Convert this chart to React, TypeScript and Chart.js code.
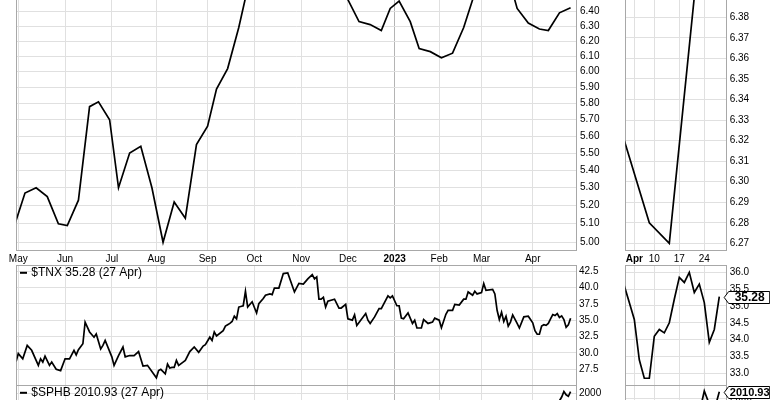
import React, { useEffect, useRef } from 'react';
import { Chart, registerables } from 'chart.js';

Chart.register(...registerables);

// ---------- data (x = trading-day index, 0 = 2 May 2022) ----------
const monthTickDays = [0, 21, 42, 62, 85, 106, 127, 148, 169, 189, 208, 231];
const monthTickLabels = ['May', 'Jun', 'Jul', 'Aug', 'Sep', 'Oct', 'Nov', 'Dec', '2023', 'Feb', 'Mar', 'Apr'];
const aprTickDays = [231, 235, 240, 245];
const aprTickLabels = ['Apr', '10', '17', '24'];

const weekDays = [-2, 3, 8, 13, 18, 22, 27, 32, 36, 41, 45, 50, 55, 60, 65, 70, 75, 80, 85, 89, 94, 99, 104, 109, 114, 119, 124, 129, 134, 139, 143, 148, 153, 158, 163, 167, 171, 176, 180, 185, 190, 195, 200, 204, 209, 214, 219, 224, 229, 234, 238, 243, 248];
const weekValues = [5.08, 5.27, 5.3, 5.25, 5.1, 5.09, 5.23, 5.78, 5.81, 5.7, 5.3, 5.5, 5.54, 5.3, 5.0, 5.22, 5.13, 5.55, 5.66, 5.89, 6.02, 6.29, 6.63, 6.95, 7.05, 7.1, 7.0, 6.9, 6.8, 6.7, 6.6, 6.48, 6.33, 6.31, 6.27, 6.42, 6.47, 6.33, 6.15, 6.13, 6.09, 6.12, 6.29, 6.48, 6.65, 6.75, 6.7, 6.42, 6.32, 6.28, 6.27, 6.39, 6.425];
const weekTicks = [5.0, 5.1, 5.2, 5.3, 5.4, 5.5, 5.6, 5.7, 5.8, 5.9, 6.0, 6.1, 6.2, 6.3, 6.4, 6.5, 6.6];
const weekAprTicks = [6.27, 6.28, 6.29, 6.3, 6.31, 6.32, 6.33, 6.34, 6.35, 6.36, 6.37, 6.38, 6.39];

const tnxDays = [-1, 0, 2, 4, 6, 9, 10, 11, 12, 14, 15, 17, 19, 21, 23, 25, 26, 27, 29, 30, 32, 34, 35, 37, 38, 39, 42, 43, 45, 47, 48, 50, 52, 54, 56, 58, 62, 63, 64, 66, 67, 68, 69, 70, 71, 72, 74, 75, 77, 79, 81, 83, 84, 86, 87, 88, 89, 92, 93, 94, 95, 96, 97, 98, 99, 101, 102, 103, 105, 107, 108, 110, 111, 113, 114, 115, 117, 119, 121, 124, 126, 128, 130, 132, 133, 134, 135, 136, 137, 138, 139, 142, 144, 145, 147, 148, 150, 151, 152, 154, 156, 157, 158, 160, 162, 163, 166, 167, 168, 170, 171, 172, 173, 175, 177, 178, 179, 181, 182, 184, 186, 187, 189, 190, 192, 193, 195, 196, 198, 200, 201, 202, 204, 205, 206, 208, 209, 210, 213, 214, 215, 216, 217, 218, 219, 220, 221, 222, 224, 225, 227, 229, 230, 231, 232, 233, 234, 235, 236, 237, 238, 239, 240, 241, 242, 243, 244, 245, 246, 247, 248];
const tnxValues = [28.7, 29.9, 29.1, 31.15, 30.4, 28.1, 29.1, 28.6, 29.5, 28.1, 28.6, 27.5, 27.3, 29.1, 29.1, 30.4, 29.7, 30.5, 31.4, 34.7, 33.2, 32.4, 32.9, 30.6, 31.15, 31.9, 29.4, 28.1, 29.6, 30.9, 29.4, 29.6, 29.6, 30.2, 28.0, 28.1, 26.2, 27.3, 27.5, 26.8, 28.3, 27.7, 27.8, 27.8, 28.86, 28.1, 28.6, 28.86, 30.2, 30.9, 30.1, 31.05, 31.25, 32.4, 31.9, 33.2, 32.6, 33.4, 34.1, 34.3, 34.5, 34.8, 35.6, 35.2, 37.0, 37.2, 39.4, 37.0, 37.8, 36.1, 37.5, 38.3, 38.8, 39.0, 38.9, 39.9, 39.9, 42.1, 42.2, 39.3, 40.6, 40.5, 41.3, 41.94, 41.3, 41.6, 38.2, 38.2, 38.5, 37.0, 37.9, 38.2, 36.85, 36.85, 37.4, 35.2, 35.0, 35.8, 34.2, 35.1, 36.0, 35.0, 34.5, 35.5, 36.75, 36.75, 38.7, 38.4, 38.7, 37.2, 37.2, 35.3, 35.2, 36.1, 34.5, 35.0, 33.8, 33.8, 35.1, 34.5, 34.7, 35.3, 35.0, 33.85, 35.9, 36.5, 36.5, 37.4, 37.3, 38.2, 38.2, 39.3, 38.8, 39.4, 39.0, 39.2, 40.57, 39.55, 39.7, 39.0, 36.5, 35.1, 36.2, 34.8, 35.6, 34.1, 34.7, 35.8, 34.5, 33.8, 35.5, 35.6, 35.1, 34.6, 33.4, 32.85, 32.85, 34.1, 34.3, 34.2, 34.5, 35.2, 35.85, 35.7, 36.0, 35.4, 35.65, 35.1, 33.92, 34.3, 35.28];
const tnxTicks = [27.5, 30, 32.5, 35, 37.5, 40, 42.5];
const tnxAprTicks = [33, 33.5, 34, 34.5, 35, 35.5, 36];

const sphbDays = [236, 238, 240, 241, 242, 243, 244, 245, 246, 247, 248];
const sphbValues = [1880, 1900, 1925, 1935, 1940, 1950, 1975, 2012, 1990, 1980, 2010.93];
const sphbTicks = [1600, 1700, 1800, 1900, 2000];
const sphbAprTicks = [1900, 1950, 2000];

// ---------- styling ----------
const FONT = "'Liberation Sans', Arial, sans-serif";
const GRID = '#e0e0e0';
const GRID_YEAR = '#b4b4b4';
const FRAME = '#a8a8a8';

type Spec = {
  left: number; top: number; width: number; height: number;
  areaLeft: number; areaTop: number; areaRight: number; areaBottom: number;
  xMin: number; xMax: number; xTicks: number[]; xLabels?: string[]; boldLabel?: string; darkTick?: number;
  yType: 'linear' | 'logarithmic'; yMin: number; yMax: number; yTicks: number[]; yDigits: number; yPad: number;
  xs: number[]; ys: number[]; lineWidth: number;
  legend?: string; box?: { value: number; text: string; size: number };
};

function buildConfig(s: Spec): any {
  const padLeft = s.areaLeft - s.left;
  const padTop = s.areaTop - s.top;
  const yW = s.left + s.width - s.areaRight;
  const xH = s.top + s.height - s.areaBottom;
  const deco = {
    id: 'deco',
    beforeDatasetsDraw(chart: any) {
      const { ctx, chartArea: a } = chart;
      ctx.save();
      ctx.strokeStyle = FRAME;
      ctx.lineWidth = 1;
      const l = Math.floor(a.left) + 0.5, r = Math.floor(a.right) + 0.5;
      const t = Math.floor(a.top) + 0.5, b = Math.floor(a.bottom) + 0.5;
      ctx.strokeRect(l, t, r - l, b - t);
      ctx.restore();
    },
    afterDraw(chart: any) {
      const { ctx, chartArea: a } = chart;
      ctx.save();
      if (s.legend) {
        ctx.fillStyle = '#000';
        ctx.fillRect(a.left + 3.3, a.top + 6.5, 7, 2);
        ctx.font = `12px ${FONT}`;
        ctx.textBaseline = 'middle';
        ctx.textAlign = 'left';
        ctx.fillText(s.legend, a.left + 14.6, a.top + 7.6);
      }
      if (s.box) {
        const y = Math.round(chart.scales.y.getPixelForValue(s.box.value)) + 0.5;
        const tip = a.right - 2.5;
        const bl = tip + 4.5;
        const br = bl + 41;
        const h = 6;
        ctx.beginPath();
        ctx.moveTo(tip, y);
        ctx.lineTo(bl, y - h);
        ctx.lineTo(br, y - h);
        ctx.lineTo(br, y + h);
        ctx.lineTo(bl, y + h);
        ctx.closePath();
        ctx.fillStyle = '#fff';
        ctx.fill();
        ctx.strokeStyle = '#000';
        ctx.lineWidth = 1;
        ctx.stroke();
        ctx.fillStyle = '#000';
        ctx.font = `bold ${s.box.size}px ${FONT}`;
        ctx.textBaseline = 'middle';
        ctx.textAlign = 'center';
        ctx.fillText(s.box.text, (bl + br) / 2 + 0.5, y + 0.5);
      }
      ctx.restore();
    },
  };
  const zero = (sc: any) => {
    sc.paddingLeft = 0; sc.paddingRight = 0; sc.paddingTop = 0; sc.paddingBottom = 0;
  };
  return {
    type: 'line',
    data: {
      datasets: [{
        data: s.xs.map((x, i) => ({ x, y: s.ys[i] })),
        borderColor: '#000',
        borderWidth: s.lineWidth,
        pointRadius: 0,
        tension: 0,
        fill: false,
        borderJoinStyle: 'miter',
      }],
    },
    options: {
      animation: false,
      responsive: false,
      maintainAspectRatio: false,
      events: [],
      layout: { padding: { left: padLeft, top: padTop, right: 0, bottom: 0 } },
      plugins: { legend: { display: false }, tooltip: { enabled: false } },
      scales: {
        x: {
          type: 'linear', position: 'bottom', min: s.xMin, max: s.xMax, offset: false,
          border: { display: false },
          grid: {
            drawTicks: false, lineWidth: 1,
            color: (c: any) => (c.tick && c.tick.value === s.darkTick ? GRID_YEAR : GRID),
          },
          ticks: {
            display: !!s.xLabels, autoSkip: false, maxRotation: 0, minRotation: 0, padding: 3, color: '#000',
            font: (c: any) => ({ family: FONT, size: 10, weight: c.tick && c.tick.label === s.boldLabel ? 'bold' : 'normal' }),
            callback: (_v: any, i: number) => (s.xLabels ? s.xLabels[i] : ''),
          },
          afterBuildTicks: (sc: any) => { sc.ticks = s.xTicks.map((v) => ({ value: v })); },
          afterFit: (sc: any) => { sc.height = xH; zero(sc); },
        },
        y: {
          type: s.yType, position: 'right', min: s.yMin, max: s.yMax,
          border: { display: false },
          grid: { drawTicks: false, lineWidth: 1, color: GRID },
          ticks: {
            autoSkip: false, padding: s.yPad, color: '#000', font: { family: FONT, size: 10 },
            callback: (v: any) => Number(v).toFixed(s.yDigits),
          },
          afterBuildTicks: (sc: any) => { sc.ticks = s.yTicks.map((v) => ({ value: v })); },
          afterFit: (sc: any) => { sc.width = yW; zero(sc); },
        },
      },
    },
    plugins: [deco],
  };
}

function Panel({ spec }: { spec: Spec }) {
  const ref = useRef<HTMLCanvasElement | null>(null);
  useEffect(() => {
    const chart = new Chart(ref.current as HTMLCanvasElement, buildConfig(spec));
    return () => chart.destroy();
  }, [spec]);
  return (
    <div style={{ position: 'absolute', left: spec.left, top: spec.top, width: spec.width, height: spec.height }}>
      <canvas ref={ref} width={spec.width} height={spec.height} style={{ display: 'block', width: spec.width, height: spec.height }} />
    </div>
  );
}

const MAIN_X = { xMin: -0.72, xMax: 250.43, xTicks: monthTickDays, darkTick: 169 };
const APR_X = { xMin: 229.2, xMax: 249.48, xTicks: aprTickDays };

const panels: Spec[] = [
  {
    left: 0, top: -20, width: 620, height: 290, areaLeft: 16.7, areaTop: -20, areaRight: 576, areaBottom: 250.7,
    ...MAIN_X, xLabels: monthTickLabels, boldLabel: '2023',
    yType: 'logarithmic', yMin: 4.955, yMax: 6.618, yTicks: weekTicks, yDigits: 2, yPad: 4,
    xs: weekDays, ys: weekValues, lineWidth: 1.7,
  },
  {
    left: 620, top: -20, width: 150, height: 290, areaLeft: 625.3, areaTop: -20, areaRight: 726.7, areaBottom: 250.7,
    ...APR_X, xLabels: aprTickLabels, boldLabel: 'Apr',
    yType: 'linear', yMin: 6.2664, yMax: 6.3982, yTicks: weekAprTicks, yDigits: 2, yPad: 3,
    xs: weekDays, ys: weekValues, lineWidth: 1.7,
  },
  {
    left: 0, top: 255, width: 620, height: 140, areaLeft: 16.7, areaTop: 265.3, areaRight: 576, areaBottom: 385.3,
    ...MAIN_X,
    yType: 'linear', yMin: 25.06, yMax: 43.37, yTicks: tnxTicks, yDigits: 1, yPad: 3,
    xs: tnxDays, ys: tnxValues, lineWidth: 1.7, legend: '$TNX 35.28 (27 Apr)',
  },
  {
    left: 620, top: 255, width: 150, height: 140, areaLeft: 625.3, areaTop: 265.3, areaRight: 726.7, areaBottom: 385.3,
    ...APR_X,
    yType: 'linear', yMin: 32.64, yMax: 36.21, yTicks: tnxAprTicks, yDigits: 1, yPad: 3,
    xs: tnxDays, ys: tnxValues, lineWidth: 1.7, box: { value: 35.28, text: '35.28', size: 12 },
  },
  {
    left: 0, top: 380, width: 620, height: 130, areaLeft: 16.7, areaTop: 385.3, areaRight: 576, areaBottom: 505,
    ...MAIN_X,
    yType: 'linear', yMin: 1255, yMax: 2053.3, yTicks: sphbTicks, yDigits: 0, yPad: 3,
    xs: sphbDays, ys: sphbValues, lineWidth: 1.7, legend: '$SPHB 2010.93 (27 Apr)',
  },
  {
    left: 620, top: 380, width: 150, height: 130, areaLeft: 625.3, areaTop: 385.3, areaRight: 726.7, areaBottom: 505,
    ...APR_X,
    yType: 'linear', yMin: 1822, yMax: 2021.6, yTicks: sphbAprTicks, yDigits: 0, yPad: 3,
    xs: sphbDays, ys: sphbValues, lineWidth: 1.7, box: { value: 2010.93, text: '2010.93', size: 11 },
  },
];

export default function App() {
  return (
    <div style={{ position: 'absolute', left: 0, top: 0, width: 770, height: 400, overflow: 'hidden', background: '#fff' }}>
      {panels.map((p, i) => (
        <Panel key={i} spec={p} />
      ))}
    </div>
  );
}
